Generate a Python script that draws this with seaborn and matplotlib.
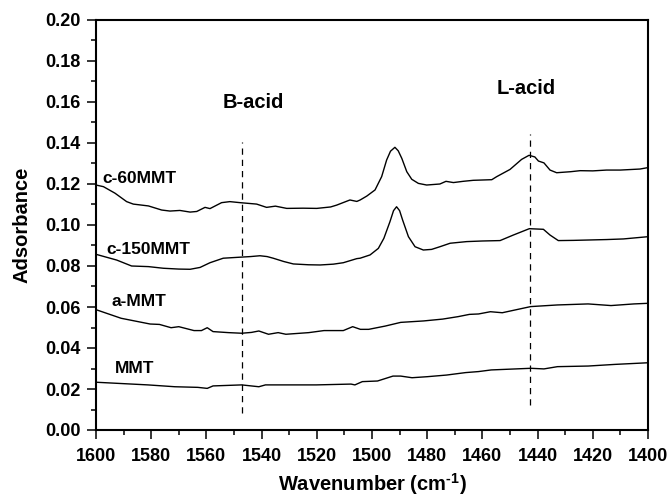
import numpy as np
import pandas as pd
import matplotlib
matplotlib.use("Agg")
import matplotlib.pyplot as plt
import seaborn as sns
from matplotlib.ticker import MultipleLocator

# ---- data ----
wn_c60 = [1600, 1597.3, 1593.1, 1588.9, 1586.5, 1581.0, 1576.2, 1573.2, 1569.6, 1565.9,
          1563.5, 1560.5, 1558.7, 1554.5, 1551.5, 1547.8, 1541.8, 1538.2, 1535, 1530.9,
          1525, 1520, 1515, 1512.8, 1508.0, 1505.5, 1504.3, 1501.9, 1498.9, 1496.5,
          1494.7, 1493.3, 1491.7, 1490.5, 1489.2, 1487.4, 1485.6, 1483.2, 1480.2, 1475.4,
          1473.2, 1470.5, 1467, 1463.3, 1456.6, 1454.8, 1450.0, 1445.8, 1443.1, 1441,
          1439.7, 1437.7, 1435.5, 1433.1, 1428, 1424.6, 1420, 1415.0, 1410, 1402.9, 1400]
ab_c60 = [0.1195, 0.1187, 0.1155, 0.1114, 0.1102, 0.1093, 0.1073, 0.1068, 0.1071, 0.1063,
          0.1066, 0.1086, 0.1080, 0.1109, 0.1114, 0.1109, 0.1102, 0.1086, 0.1092, 0.1081,
          0.1082, 0.1081, 0.1088, 0.1097, 0.1122, 0.1115, 0.1122, 0.1141, 0.1171, 0.1236,
          0.1317, 0.1360, 0.1379, 0.1362, 0.1325, 0.1260, 0.1223, 0.1203, 0.1195, 0.1200,
          0.1213, 0.1207, 0.1213, 0.1218, 0.1221, 0.1236, 0.1271, 0.1320, 0.1340, 0.1332,
          0.1312, 0.1303, 0.1268, 0.1255, 0.1260, 0.1265, 0.1264, 0.1268, 0.1268, 0.1273,
          0.1280]

wn_c150 = [1600, 1592.5, 1587.1, 1581.0, 1575.6, 1570, 1565.9, 1562.3, 1558.7, 1553.9,
           1547.8, 1544, 1540.6, 1538, 1535.8, 1532, 1528.5, 1523, 1518.8, 1514,
           1510.4, 1505.5, 1504.3, 1500.7, 1497.7, 1495.7, 1493.5, 1492.2, 1491.1, 1490.0,
           1488.9, 1486.8, 1484.4, 1481.4, 1478.4, 1475.4, 1471.7, 1465.7, 1460, 1453.6,
           1448.8, 1443.0, 1437.9, 1435.5, 1432.5, 1427, 1421.0, 1415, 1408.9, 1400]
ab_c150 = [0.0857, 0.0829, 0.0800, 0.0797, 0.0789, 0.0785, 0.0784, 0.0793, 0.0816, 0.0838,
           0.0843, 0.0846, 0.0850, 0.0846, 0.0838, 0.0822, 0.0810, 0.0806, 0.0805, 0.0809,
           0.0816, 0.0836, 0.0838, 0.0854, 0.0886, 0.0935, 0.1016, 0.1070, 0.1089, 0.1070,
           0.1024, 0.0943, 0.0894, 0.0878, 0.0881, 0.0894, 0.0911, 0.0919, 0.0922, 0.0924,
           0.0951, 0.0982, 0.0979, 0.0951, 0.0924, 0.0925, 0.0927, 0.0929, 0.0932, 0.0943]

wn_ammt = [1600, 1590.9, 1580.4, 1577.0, 1572.8, 1570.0, 1564.5, 1561.8, 1559.7, 1557.6,
           1552.0, 1547.2, 1543.7, 1541.0, 1537.5, 1534.0, 1531.2, 1522.9, 1517.4, 1510.4,
           1507.0, 1504.2, 1501.2, 1495.2, 1489.6, 1481.3, 1474.4, 1468.8, 1464.7, 1461.4,
           1457.1, 1452.8, 1442.5, 1432.8, 1421.7, 1413.4, 1405.1, 1400]
ab_ammt = [0.0587, 0.0545, 0.0517, 0.0515, 0.0499, 0.0504, 0.0485, 0.0485, 0.0499, 0.0480,
           0.0475, 0.0472, 0.0476, 0.0483, 0.0467, 0.0475, 0.0467, 0.0475, 0.0485, 0.0485,
           0.0504, 0.0491, 0.0491, 0.0507, 0.0525, 0.0532, 0.0541, 0.0553, 0.0564, 0.0566,
           0.0577, 0.0572, 0.0602, 0.0610, 0.0615, 0.0607, 0.0615, 0.0618]

wn_mmt = [1600, 1581.2, 1571.4, 1563.1, 1559.7, 1557.6, 1547.2, 1541.0, 1538.6, 1527.1,
          1520.2, 1507.6, 1506.2, 1503.5, 1498.0, 1492.4, 1489.6, 1485.5, 1480.0, 1473.0,
          1466.1, 1461.4, 1456.8, 1442.5, 1437.7, 1432.8, 1421.7, 1412.0, 1400]
ab_mmt = [0.0233, 0.0220, 0.0211, 0.0208, 0.0203, 0.0215, 0.0220, 0.0211, 0.0220, 0.0220,
          0.0220, 0.0224, 0.0220, 0.0236, 0.0239, 0.0263, 0.0263, 0.0255, 0.0260, 0.0268,
          0.0280, 0.0285, 0.0293, 0.0301, 0.0298, 0.0309, 0.0312, 0.0320, 0.0328]

series_names = ["c-60MMT", "c-150MMT", "a-MMT", "MMT"]
label_wn = [1597.6, 1596.4, 1594.3, 1593.1]
label_ab = [0.1228, 0.0881, 0.0626, 0.0301]

acid_names = ["B-acid", "L-acid"]
acid_wn = [1547.2, 1442.8]
acid_ymin = [0.0084, 0.0122]
acid_ymax = [0.1407, 0.1444]
acid_label_wn = [1554.0, 1454.8]
acid_label_ab = [0.1597, 0.1667]

x_ticks = [1600, 1580, 1560, 1540, 1520, 1500, 1480, 1460, 1440, 1420, 1400]
y_ticks = [0.00, 0.02, 0.04, 0.06, 0.08, 0.10, 0.12, 0.14, 0.16, 0.18, 0.20]

frames = []
for name, w, a in zip(series_names,
                      [wn_c60, wn_c150, wn_ammt, wn_mmt],
                      [ab_c60, ab_c150, ab_ammt, ab_mmt]):
    frames.append(pd.DataFrame({"wn": w, "ab": a, "sample": name}))
df = pd.concat(frames, ignore_index=True)

sns.set_theme(style="ticks")
plt.rcParams["font.family"] = ["Liberation Sans", "DejaVu Sans"]
plt.rcParams["font.weight"] = "bold"
plt.rcParams["text.color"] = "black"
plt.rcParams["axes.labelcolor"] = "black"
plt.rcParams["xtick.color"] = "black"
plt.rcParams["ytick.color"] = "black"
plt.rcParams["axes.edgecolor"] = "black"
plt.rcParams["mathtext.fontset"] = "custom"
plt.rcParams["mathtext.rm"] = "Liberation Sans:bold"
plt.rcParams["mathtext.bf"] = "Liberation Sans:bold"
plt.rcParams["mathtext.it"] = "Liberation Sans:bold"

fig = plt.figure(figsize=(6.67, 4.99), dpi=100)
ax = fig.add_axes([96 / 667, 69 / 499, 552 / 667, 410 / 499])

sns.lineplot(data=df, x="wn", y="ab", units="sample", estimator=None,
             color="black", linewidth=1.0, ax=ax, legend=False)

for w, y0, y1 in zip(acid_wn, acid_ymin, acid_ymax):
    ax.plot([w, w], [y0, y1], color="black", linewidth=0.9, linestyle=(0, (5, 4)))

for name, w, a in zip(series_names, label_wn, label_ab):
    ax.text(w, a, name, ha="left", va="center", fontsize=12.5, fontweight="bold",
            color="black")
for name, w, a in zip(acid_names, acid_label_wn, acid_label_ab):
    ax.text(w, a, name, ha="left", va="center", fontsize=14.5, fontweight="bold",
            color="black")

ax.set_xlim(1600, 1400)
ax.set_ylim(0, 0.20)
ax.set_xticks(x_ticks)
ax.set_xticklabels([str(t) for t in x_ticks])
ax.set_yticks(y_ticks)
ax.set_yticklabels([f"{t:.2f}" for t in y_ticks])
ax.xaxis.set_minor_locator(MultipleLocator(10))
ax.yaxis.set_minor_locator(MultipleLocator(0.01))

for s in ax.spines.values():
    s.set_linewidth(1.5)
    s.set_color("black")
    s.set_visible(True)

ax.tick_params(axis="both", which="major", direction="out", length=6.2, width=1.1,
               color="black", labelsize=13, labelcolor="black")
ax.tick_params(axis="both", which="minor", direction="out", length=3.8, width=1.1,
               color="black")
ax.tick_params(axis="y", which="major", pad=5)
ax.tick_params(axis="x", which="major", pad=7)
ax.tick_params(top=False, right=False, which="both")
for lbl in ax.get_xticklabels() + ax.get_yticklabels():
    lbl.set_fontweight("bold")

ax.set_xlabel(r"Wavenumber (cm$^{\text{-1}}$)", fontsize=14.5, fontweight="bold",
              labelpad=4, color="black")
ax.set_ylabel("Adsorbance", fontsize=14.5, fontweight="bold", labelpad=10,
              color="black")
ax.grid(False)

fig.savefig("out.png", dpi=100)
